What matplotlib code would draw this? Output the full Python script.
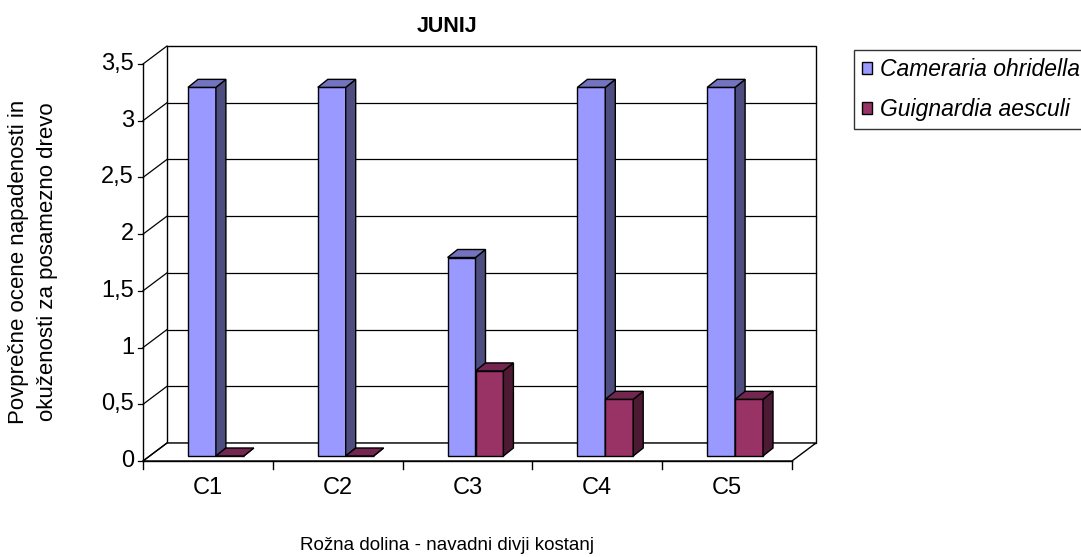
import matplotlib
matplotlib.use("Agg")
import matplotlib.pyplot as plt
from matplotlib.patches import Polygon, Patch

plt.rcParams['font.family'] = ['Liberation Sans', 'DejaVu Sans']

categories = ["C1", "C2", "C3", "C4", "C5"]
cameraria = [3.25, 3.25, 1.75, 3.25, 3.25]
guignardia = [0.0, 0.0, 0.75, 0.5, 0.5]
yticks = [0, 0.5, 1, 1.5, 2, 2.5, 3, 3.5]
ytick_labels = ["0", "0,5", "1", "1,5", "2", "2,5", "3", "3,5"]

# series colours: front, side, top
cam_cols = ("#9999ff", "#4d4d80", "#7373bf")
gui_cols = ("#993366", "#4d1a33", "#732650")

W, H = 1081, 557
fig = plt.figure(figsize=(W / 100, H / 100), dpi=100)
# front plane of the 3D box
x0, x1, ytop, ybot = 143, 792, 64, 461
ax = fig.add_axes([x0 / W, 1 - ybot / H, (x1 - x0) / W, (ybot - ytop) / H])
ax.set_xlim(0.5, 5.5)
ax.set_ylim(0, 3.5)
ax.axis("off")

# depth of the box and of the bars, in data units
px_x = 5.0 / (x1 - x0)
px_y = 3.5 / (ybot - ytop)
DX, DY = 24 * px_x, 18 * px_y
SX, SY = 8 * px_x, 5 * px_y
BX, BY = 10 * px_x, 8 * px_y
bw = 0.215

kw = dict(edgecolor="black", linewidth=1.0, clip_on=False)
lkw = dict(color="black", lw=0.9, zorder=2, clip_on=False)

# back wall and floor
ax.add_patch(Polygon([(0.5 + DX, DY), (5.5 + DX, DY), (5.5 + DX, 3.5 + DY), (0.5 + DX, 3.5 + DY)],
                     facecolor="white", zorder=1, **kw))
ax.add_patch(Polygon([(0.5, 0), (5.5, 0), (5.5 + DX, DY), (0.5 + DX, DY)],
                     facecolor="white", zorder=1, **kw))
for v, lab in zip(yticks, ytick_labels):
    if 0 < v < 3.5:
        ax.plot([0.5 + DX, 5.5 + DX], [v + DY, v + DY], **lkw)
    ax.plot([0.5, 0.5 + DX], [v, v + DY], **lkw)
    ax.plot([0.5 - 5 * px_x, 0.5], [v, v], **lkw)
    ax.text(0.5 - 9 * px_x, v, lab, ha="right", va="center", fontsize=17)
ax.plot([0.5, 0.5], [0, 3.5], color="black", lw=1.0, zorder=2, clip_on=False)
ax.plot([0.5, 5.5], [0, 0], color="black", lw=1.0, zorder=2, clip_on=False)
for k in range(6):
    ax.plot([0.5 + k, 0.5 + k], [0, -8 * px_y], color="black", lw=1.0, zorder=2, clip_on=False)
for i, c in enumerate(categories):
    ax.text(i + 1, -27 * px_y, c, ha="center", va="center", fontsize=17)


def bar3d(x, h, cols, z):
    left = x + SX
    base = SY
    ax.bar(left, h, width=bw, bottom=base, align="edge", color=cols[0], zorder=z, **kw)
    r = left + bw
    ax.add_patch(Polygon([(r, base), (r + BX, base + BY), (r + BX, base + h + BY), (r, base + h)],
                         facecolor=cols[1], zorder=z, **kw))
    ax.add_patch(Polygon([(left, base + h), (r, base + h), (r + BX, base + h + BY), (left + BX, base + h + BY)],
                         facecolor=cols[2], zorder=z, **kw))


for i in range(len(categories)):
    xc = i + 1
    bar3d(xc - bw, cameraria[i], cam_cols, 3 + 2 * i)
    bar3d(xc, guignardia[i], gui_cols, 4 + 2 * i)

fig.text(447 / W, 1 - 26 / H, "JUNIJ", ha="center", va="center", fontsize=15.5, fontweight="bold")
fig.text(447 / W, 1 - 545 / H, "Rožna dolina - navadni divji kostanj", ha="center", va="center", fontsize=13.5)
fig.text(33 / W, 1 - 262 / H, "Povprečne ocene napadenosti in\nokuženosti za posamezno drevo",
         ha="center", va="center", rotation=90, fontsize=16, linespacing=1.55)

handles = [Patch(facecolor=cam_cols[0], edgecolor="black", label="Cameraria ohridella"),
           Patch(facecolor=gui_cols[0], edgecolor="black", label="Guignardia aesculi")]
leg = fig.legend(handles=handles, loc="upper left", bbox_to_anchor=(854 / W, 1 - 50 / H),
                 prop=dict(style="italic", size=16.5), frameon=True, fancybox=False,
                 handlelength=0.45, handleheight=0.45, handletextpad=0.35, labelspacing=0.75,
                 borderpad=0.35, borderaxespad=0)
leg.get_frame().set_edgecolor("black")
leg.get_frame().set_linewidth(1.0)

fig.savefig("out.png", dpi=100, facecolor="white")
